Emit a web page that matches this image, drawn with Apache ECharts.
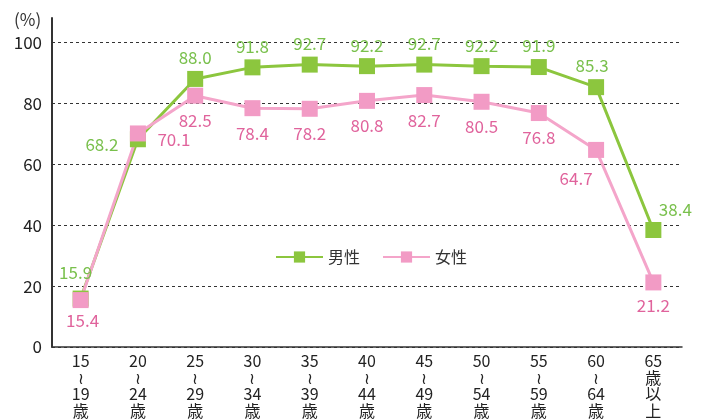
<!DOCTYPE html>
<html>
<head>
<meta charset="utf-8">
<script src="https://cdn.jsdelivr.net/npm/echarts@6/dist/echarts.min.js"></script>
<style>
  html, body { margin: 0; padding: 0; background: #fff; }
  #chart { width: 709px; height: 419px; }
</style>
</head>
<body>
<div id="chart"></div>
<script>
const ageGroups = ['15\n≀\n19\n歳', '20\n≀\n24\n歳', '25\n≀\n29\n歳', '30\n≀\n34\n歳', '35\n≀\n39\n歳',
  '40\n≀\n44\n歳', '45\n≀\n49\n歳', '50\n≀\n54\n歳', '55\n≀\n59\n歳', '60\n≀\n64\n歳', '65\n歳\n以\n上']
const male = [15.9, 68.2, 88.0, 91.8, 92.7, 92.2, 92.7, 92.2, 91.9, 85.3, 38.4]
const female = [15.4, 70.1, 82.5, 78.4, 78.2, 80.8, 82.7, 80.5, 76.8, 64.7, 21.2]
const yTicks = [0, 20, 40, 60, 80, 100]

const green = '#8cc63e'
const greenText = '#79c04c'
const pink = '#f29bc5'
const pinkText = '#e0639c'
const font = '"Noto Sans CJK JP", "Noto Sans", sans-serif'

// label offsets from the marker centre
const maleOffsets = [[-5, -26], [-36, 5], [0, -21], [0, -21], [0, -21], [0, -21], [0, -21], [0, -21], [0, -21], [-4, -22], [22, -20]]
const femaleOffsets = [[2, 20], [36, 6], [0, 25], [0, 25], [0, 25], [0, 25], [0, 25], [0, 25], [0, 25], [-20, 29], [0, 23]]

function withLabels(values, offsets, color) {
  return values.map((v, i) => ({
    value: v,
    label: {
      show: true,
      position: 'inside',
      offset: offsets[i],
      color: color,
      fontSize: 17,
      fontFamily: font,
      formatter: p => p.value.toFixed(1),
    },
  }))
}

const chart = echarts.init(document.getElementById('chart'))

chart.setOption({
  animation: false,
  textStyle: { fontFamily: font },
  grid: { left: 52, right: 27, top: 18, bottom: 72 },
  graphic: [
    { type: 'text', left: 14, top: 11, style: { text: '(%)', fontSize: 17, fill: '#333', fontFamily: font } },
  ],
  legend: {
    left: 270,
    top: 244,
    itemWidth: 47,
    itemHeight: 14,
    itemGap: 22,
    textStyle: { color: '#333', fontSize: 16, fontFamily: font },
    data: ['男性', '女性'],
  },
  xAxis: {
    type: 'category',
    data: ageGroups,
    boundaryGap: true,
    axisLine: { lineStyle: { color: '#333', width: 1.5 } },
    axisTick: { inside: true, length: 6, lineStyle: { color: '#333', width: 1.5 } },
    axisLabel: {
      interval: 0,
      margin: 6,
      color: '#222',
      fontSize: 16,
      lineHeight: 16.5,
      fontFamily: font,
    },
  },
  yAxis: {
    type: 'value',
    min: 0,
    max: 108,
    interval: 4,
    axisLine: { show: true, lineStyle: { color: '#333', width: 2 } },
    axisTick: { show: false },
    axisLabel: {
      margin: 10,
      color: '#222',
      fontSize: 17,
      fontFamily: font,
      formatter: v => (yTicks.includes(v) ? String(v) : ''),
    },
    splitLine: {
      lineStyle: {
        color: ['#333', 'transparent', 'transparent', 'transparent', 'transparent'],
        type: [3, 3],
        width: 1,
      },
    },
  },
  series: [
    {
      name: '男性',
      type: 'line',
      data: withLabels(male, maleOffsets, greenText),
      symbol: 'rect',
      symbolSize: 16,
      lineStyle: { color: green, width: 3 },
      itemStyle: { color: green },
    },
    {
      name: '女性',
      type: 'line',
      data: withLabels(female, femaleOffsets, pinkText),
      symbol: 'rect',
      symbolSize: 16,
      lineStyle: { color: '#f4a5ca', width: 3 },
      itemStyle: { color: pink },
    },
  ],
})
</script>
</body>
</html>
